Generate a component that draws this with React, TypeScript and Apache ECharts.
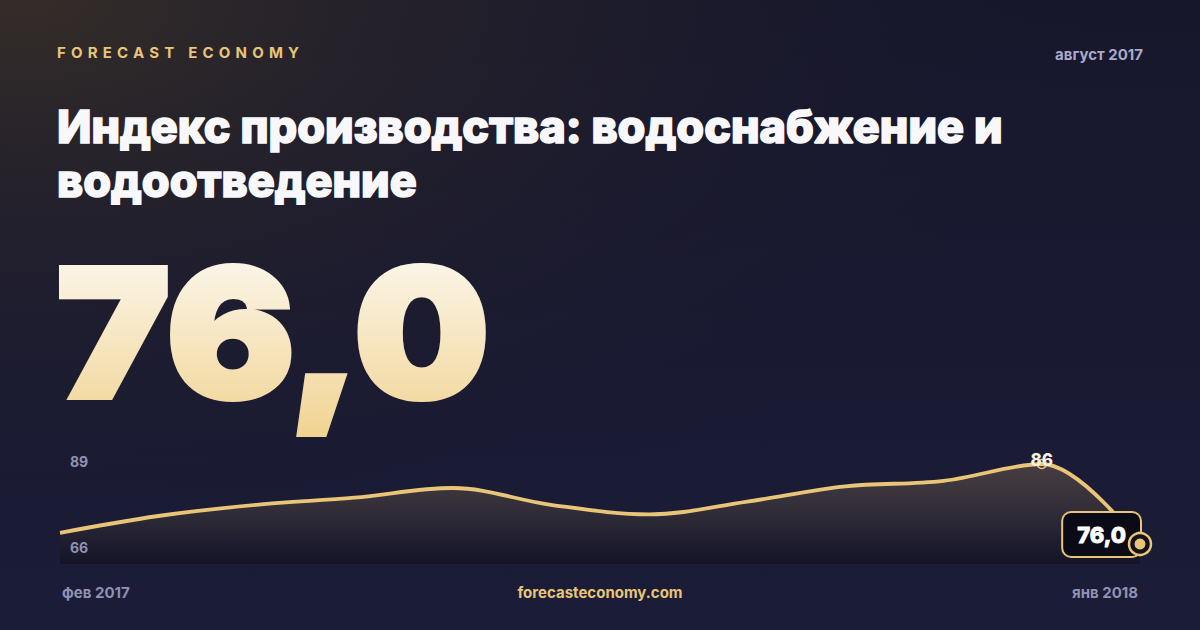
import React, { useEffect, useRef } from "react";
import * as echarts from "echarts";

// monthly index values, фев 2017 .. янв 2018
const months = [
  "фев 2017", "мар 2017", "апр 2017", "май 2017", "июн 2017", "июл 2017",
  "авг 2017", "сен 2017", "окт 2017", "ноя 2017", "дек 2017", "янв 2018",
];
const values = [77.4, 79.5, 80.9, 81.8, 83.0, 80.9, 79.7, 81.3, 83.2, 83.9, 86.0, 76.0];
const rangeLabels = ["89", "66"];

const brand = "FORECAST ECONOMY";
const period = "август 2017";
const titleLines = ["Индекс производства: водоснабжение и", "водоотведение"];
const headline = "76,0";
const site = "forecasteconomy.com";

const GOLD = "#e8c577";
const FONT = "Inter, 'Noto Sans', sans-serif";
const BIG_SIZE = 178;
const SVG_NS = "http://www.w3.org/2000/svg";

const App: React.FC = () => {
  const chartRef = useRef<HTMLDivElement>(null);

  useEffect(() => {
    if (!chartRef.current) return;
    const chart = echarts.init(chartRef.current, undefined, { renderer: "svg" });

    const lastIdx = values.length - 1;
    let maxIdx = 0;
    values.forEach((v, i) => {
      if (v > values[maxIdx]) maxIdx = i;
    });

    const option = {
      animation: false,
      backgroundColor: "#181830",
      grid: { left: 60, right: 60, top: 456, bottom: 66 },
      xAxis: {
        type: "category",
        data: months,
        boundaryGap: false,
        show: false,
      },
      yAxis: { type: "value", min: 73.5, max: 87, show: false },
      graphic: [
        {
          type: "rect",
          z: -20,
          silent: true,
          shape: { x: 0, y: 0, width: 1200, height: 630 },
          style: {
            fill: new echarts.graphic.LinearGradient(0, 0, 0, 1, [
              { offset: 0, color: "#17172c" },
              { offset: 1, color: "#1b1c37" },
            ]),
          },
        },
        {
          type: "rect",
          z: -19,
          silent: true,
          shape: { x: 0, y: 0, width: 1200, height: 630 },
          style: {
            fill: new echarts.graphic.RadialGradient(0.02, 0, 0.9, [
              { offset: 0, color: "rgba(54,46,40,0.95)" },
              { offset: 0.5, color: "rgba(40,36,42,0.45)" },
              { offset: 1, color: "rgba(24,24,48,0)" },
            ]),
          },
        },
        {
          type: "text",
          x: 57,
          y: 52,
          style: {
            text: brand,
            fill: GOLD,
            font: `700 15px ${FONT}`,
            textVerticalAlign: "middle",
          },
        },
        {
          type: "text",
          x: 1143,
          y: 54,
          style: {
            text: period,
            fill: "#a8aac8",
            font: `700 15px ${FONT}`,
            textAlign: "right",
            textVerticalAlign: "middle",
          },
        },
        ...titleLines.map((line, i) => ({
          type: "text",
          x: 57,
          y: 126 + i * 54,
          style: {
            text: line,
            fill: "#f8f8fb",
            stroke: "#f8f8fb",
            lineWidth: 1.6,
            font: `800 45px ${FONT}`,
            textVerticalAlign: "middle",
          },
        })),
        {
          type: "text",
          x: 57,
          y: 332,
          scaleX: 1.065,
          style: {
            text: headline,
            fill: "#f8ecd0",
            stroke: "#f8ecd0",
            lineWidth: 6,
            font: `900 ${BIG_SIZE}px ${FONT}`,
            textVerticalAlign: "middle",
            shadowColor: "rgba(0,0,0,0.55)",
            shadowBlur: 24,
            shadowOffsetY: 10,
          },
        },
        ...rangeLabels.map((t, i) => ({
          type: "text",
          x: 70,
          y: i === 0 ? 461 : 547,
          z: 10,
          style: {
            text: t,
            fill: "#9092b2",
            font: `700 14px ${FONT}`,
            textVerticalAlign: "middle",
          },
        })),
        {
          type: "text",
          x: 62,
          y: 592,
          style: {
            text: months[0],
            fill: "#9092b2",
            font: `700 15px ${FONT}`,
            textVerticalAlign: "middle",
          },
        },
        {
          type: "text",
          x: 600,
          y: 592,
          style: {
            text: site,
            fill: GOLD,
            font: `700 15px ${FONT}`,
            textAlign: "center",
            textVerticalAlign: "middle",
          },
        },
        {
          type: "text",
          x: 1138,
          y: 592,
          style: {
            text: months[lastIdx],
            fill: "#9092b2",
            font: `700 15px ${FONT}`,
            textAlign: "right",
            textVerticalAlign: "middle",
          },
        },
      ],
      series: [
        {
          type: "line",
          data: values,
          smooth: 0.35,
          showSymbol: false,
          lineStyle: { color: GOLD, width: 3.8 },
          areaStyle: {
            color: new echarts.graphic.LinearGradient(0, 0, 0, 1, [
              { offset: 0, color: "rgba(160,130,92,0.48)" },
              { offset: 0.8, color: "rgba(32,30,38,0.6)" },
              { offset: 1, color: "rgba(14,14,26,0.8)" },
            ]),
          },
          z: 2,
        },
        {
          // max marker
          type: "scatter",
          data: [[maxIdx, values[maxIdx]]],
          symbol: "circle",
          symbolSize: 9,
          itemStyle: { color: "rgba(0,0,0,0)", borderColor: GOLD, borderWidth: 1.5, opacity: 1 },
          label: {
            show: true,
            position: "inside",
            offset: [0, -4],
            formatter: () => values[maxIdx].toFixed(0),
            color: "#f6f0e2",
            fontFamily: FONT,
            fontWeight: 800,
            fontSize: 17,
          },
          z: 3,
        },
        {
          // value box for the last point
          type: "scatter",
          data: [[lastIdx, values[lastIdx]]],
          symbol: "circle",
          symbolSize: 22,
          itemStyle: { color: "rgba(0,0,0,0)", opacity: 1 },
          label: {
            show: true,
            position: "left",
            distance: 0,
            offset: [11, -9.5],
            formatter: () => values[lastIdx].toFixed(1).replace(".", ","),
            color: "#ffffff",
            textBorderColor: "#ffffff",
            textBorderWidth: 0.8,
            fontFamily: FONT,
            fontWeight: 800,
            fontSize: 22,
            backgroundColor: "#0b0b17",
            borderColor: GOLD,
            borderWidth: 2,
            borderRadius: 8,
            padding: [11, 14, 10, 14],
          },
          z: 3,
        },
        {
          type: "scatter",
          data: [[lastIdx, values[lastIdx]]],
          symbol: "circle",
          symbolSize: 22,
          itemStyle: { color: "#12121f", borderColor: GOLD, borderWidth: 2.5, opacity: 1 },
          z: 4,
        },
        {
          type: "scatter",
          data: [[lastIdx, values[lastIdx]]],
          symbol: "circle",
          symbolSize: 13,
          itemStyle: { color: GOLD, borderColor: "#141420", borderWidth: 2, opacity: 1 },
          z: 5,
        },
      ],
    };

    chart.setOption(option);

    // zrender has no letter spacing and no gradient text fill: patch the svg
    const root = chartRef.current;
    const svg = root.querySelector("svg");
    if (svg) {
      let defs = svg.querySelector("defs");
      if (!defs) {
        defs = document.createElementNS(SVG_NS, "defs");
        svg.insertBefore(defs, svg.firstChild);
      }
      const grad = document.createElementNS(SVG_NS, "linearGradient");
      grad.setAttribute("id", "bigNumberFill");
      grad.setAttribute("x1", "0");
      grad.setAttribute("y1", "0");
      grad.setAttribute("x2", "0");
      grad.setAttribute("y2", "1");
      [
        ["0", "#fdfcfa"],
        ["1", "#f1d390"],
      ].forEach(([off, col]) => {
        const stop = document.createElementNS(SVG_NS, "stop");
        stop.setAttribute("offset", off);
        stop.setAttribute("stop-color", col);
        grad.appendChild(stop);
      });
      defs.appendChild(grad);

      svg.querySelectorAll("text").forEach((el) => {
        if (el.textContent === brand) el.setAttribute("letter-spacing", "5.2");
        const st = el.getAttribute("style") || "";
        if (el.textContent === headline && st.includes(`${BIG_SIZE}px`)) {
          el.setAttribute("fill", "url(#bigNumberFill)");
          el.setAttribute("stroke", "url(#bigNumberFill)");
        }
      });
    }

    return () => {
      chart.dispose();
    };
  }, []);

  return (
    <div
      ref={chartRef}
      style={{ position: "absolute", left: 0, top: 0, width: 1200, height: 630 }}
    />
  );
};

export default App;
